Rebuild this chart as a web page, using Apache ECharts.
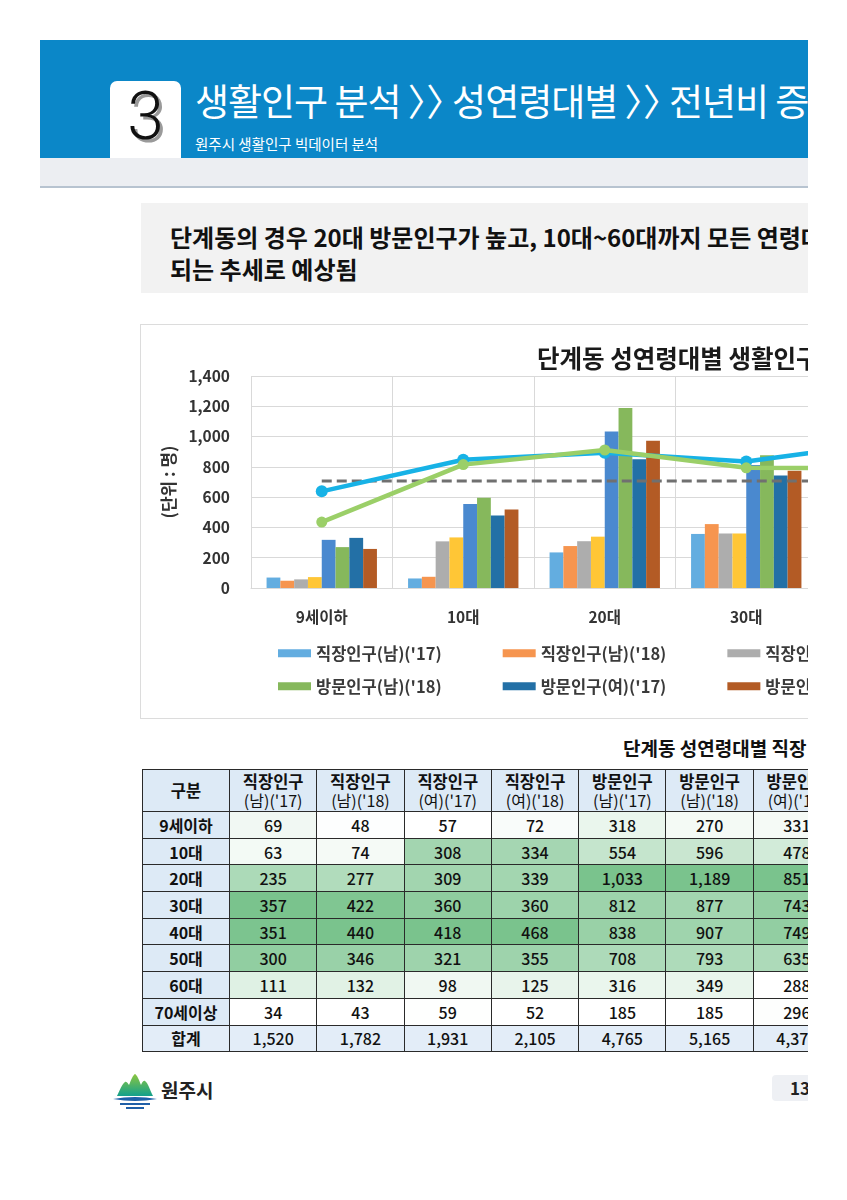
<!DOCTYPE html>
<html><head><meta charset="utf-8">
<script src="https://cdn.jsdelivr.net/npm/echarts@6/dist/echarts.min.js"></script>
<style>
body{margin:0;background:#fff;font-family:'Noto Sans CJK KR','Noto Sans',sans-serif;}
#page{position:relative;width:808px;height:1200px;overflow:hidden;background:#fff;}
.abs{position:absolute;}
#band{left:40px;top:40px;width:800px;height:118px;background:#0B87C8;}
#gray{left:40px;top:158px;width:800px;height:28px;background:#ECEEF2;border-bottom:2px solid #B7C3D0;}
#numbox{left:110px;top:81px;width:71px;height:77px;background:#fff;border-radius:7px 7px 0 0;}
#num{left:110px;top:84px;width:71px;text-align:center;font-family:Roboto,sans-serif;font-weight:300;font-size:66px;line-height:1;color:#111;text-shadow:3px 3px 0 #9a9a9a;}
#title{left:195px;top:82px;font-size:37px;line-height:37px;color:#fff;white-space:nowrap;letter-spacing:-1px;}
#title .ch{font-feature-settings:"halt";letter-spacing:0;}
#subtitle{left:195px;top:134px;font-size:14.5px;line-height:20px;color:#fff;white-space:nowrap;}
#head{left:141px;top:203px;width:700px;height:90px;background:#F2F2F2;box-sizing:border-box;padding:18px 0 0 29px;font-size:24px;font-weight:bold;line-height:32px;color:#111;white-space:nowrap;}
#chartbox{left:140px;top:324px;width:1352px;height:393px;border:1px solid #DCDCDC;background:#fff;}
#chart{width:1352px;height:393px;}
#ttitle{left:623px;top:735px;font-size:19px;font-weight:bold;line-height:26px;color:#111;white-space:nowrap;}
#tbl{left:142px;top:769px;border-collapse:collapse;table-layout:fixed;width:785.4px;}
#tbl td{border:1px solid #2a2a2a;text-align:center;padding:0;font-size:16px;font-weight:500;color:#111;white-space:nowrap;overflow:hidden;}
#tbl tr.h td{background:#DDEAF6;font-weight:bold;font-size:16.5px;line-height:19px;}
#tbl tr.h td span{font-weight:normal;font-size:16px;}
#tbl td.lab{background:#DDEAF6;font-weight:bold;}
#tbl tr.sum td{background:#E3EDF8;}
#logo{left:112px;top:1072px;}
#logotext{left:161px;top:1077px;font-size:19px;font-weight:bold;color:#222;line-height:26px;}
#pnum{left:772px;top:1075px;width:60px;height:26px;background:#EEF0F4;border-radius:4px;font-size:17px;font-weight:bold;line-height:26px;color:#222;box-sizing:border-box;padding-left:18px;}
</style></head>
<body>
<div id="page">
  <div id="band" class="abs"></div>
  <div id="gray" class="abs"></div>
  <div id="numbox" class="abs"></div>
  <div id="num" class="abs">3</div>
  <div id="title" class="abs">생활인구 분석 <span class="ch">〉〉</span> 성연령대별 <span class="ch">〉〉</span> 전년비 증감 현황</div>
  <div id="subtitle" class="abs">원주시 생활인구 빅데이터 분석</div>
  <div id="head" class="abs">단계동의 경우 20대 방문인구가 높고, 10대~60대까지 모든 연령대에서 생활인구가 증가<br>되는 추세로 예상됨</div>
  <div id="chartbox" class="abs"><div id="chart"></div></div>
  <div id="ttitle" class="abs">단계동 성연령대별 직장·방문인구 현황</div>
  <table id="tbl" class="abs"></table>
  <svg id="logo" class="abs" width="46" height="40" viewBox="0 0 46 40">
    <defs><linearGradient id="g" x1="0" y1="0" x2="0" y2="1"><stop offset="0" stop-color="#8CC63F"/><stop offset="1" stop-color="#13A08C"/></linearGradient></defs>
    <path d="M5 24 C8 18 10 12 13 10 C15 9 16 12 17 13 C19 8 21 3 23 2 C25 3 27 8 29 13 C30 11 31 8 33 9 C36 11 38 18 41 24 Z" fill="url(#g)"/>
    <path d="M1 27 Q23 23 45 27 Q23 31 1 27 Z" fill="#1F5FA8"/>
    <line x1="8" y1="32" x2="38" y2="32" stroke="#1F5FA8" stroke-width="2"/>
    <line x1="14" y1="36" x2="32" y2="36" stroke="#1F5FA8" stroke-width="2"/>
  </svg>
  <div id="logotext" class="abs">원주시</div>
  <div id="pnum" class="abs">13</div>
</div>
<script>
// ---- data ----
const categories = ['9세이하','10대','20대','30대','40대','50대','60대','70세이상'];
const seriesNames = ["직장인구(남)('17)","직장인구(남)('18)","직장인구(여)('17)","직장인구(여)('18)","방문인구(남)('17)","방문인구(남)('18)","방문인구(여)('17)","방문인구(여)('18)"];
const jobM17 = [69,63,235,357,351,300,111,34];
const jobM18 = [48,74,277,422,440,346,132,43];
const jobF17 = [57,308,309,360,418,321,98,59];
const jobF18 = [72,334,339,360,468,355,125,52];
const visM17 = [318,554,1033,812,838,708,316,185];
const visM18 = [270,596,1189,877,907,793,349,185];
const visF17 = [331,478,851,743,749,635,288,296];
const visF18 = [258,518,972,775,775,690,300,310];
const totals = [1520,1782,1931,2105,4765,5165,4371,4598];
const jobRate = [-4.9,10.0,13.3,9.2,18.1,12.9,23.0,2.2];
const visRate = [-19.4,7.7,14.6,6.2,6.0,10.4,7.5,2.9];
const baseRate = [0,0,0,0,0,0,0,0];
const yTicks = [0,200,400,600,800,1000,1200,1400];
const lineNames = ['직장인구 증감률','방문인구 증감률'];

const barData = [jobM17,jobM18,jobF17,jobF18,visM17,visM18,visF17,visF18];
const barColors = ['#63ADE0','#F6954F','#ADADAD','#FFC636','#4A89CF','#86B85C','#2370A6','#B35B25'];

const chart = echarts.init(document.getElementById('chart'));
const series = barData.map((d,i)=>({
  type:'bar', name:seriesNames[i], data:d, barGap:'0%', barCategoryGap:'22%',
  itemStyle:{color:barColors[i]}, z:2
}));
series.push({type:'line', name:'기준', yAxisIndex:1, data:baseRate, symbol:'none',
  lineStyle:{color:'#707070', width:3, type:[10,5]}, z:3, silent:true});
series.push({type:'line', name:lineNames[0], yAxisIndex:1, data:jobRate, symbol:'circle', symbolSize:12,
  lineStyle:{color:'#17B2E6', width:4.5}, itemStyle:{color:'#17B2E6'}, z:4});
series.push({type:'line', name:lineNames[1], yAxisIndex:1, data:visRate, symbol:'circle', symbolSize:11,
  lineStyle:{color:'#9BCF68', width:4.5}, itemStyle:{color:'#9BCF68'}, z:5});

const legendBase = {
  orient:'horizontal', icon:'rect', itemWidth:33, itemHeight:8, itemGap:61, left:137, padding:0,
  textStyle:{fontSize:16.5, fontWeight:'bold', color:'#3a3a3a', fontFamily:'Noto Sans CJK KR'}
};
chart.setOption({
  animation:false,
  title:{text:'단계동 성연령대별 생활인구 현황 및 전년비 증감률', left:396, top:21, padding:0,
    textStyle:{fontSize:24.5, fontWeight:'bold', color:'#1a1a1a', fontFamily:'Noto Sans CJK KR'}},
  legend:[
    Object.assign({}, legendBase, {top:320, data:seriesNames.slice(0,5)}),
    Object.assign({}, legendBase, {top:353, data:seriesNames.slice(5).concat(lineNames)})
  ],
  grid:{left:110, top:51, width:1132, height:212},
  xAxis:{type:'category', data:categories,
    axisLine:{lineStyle:{color:'#D9D9D9', width:1}}, axisTick:{show:false},
    splitLine:{show:true, lineStyle:{color:'#D9D9D9', width:1}},
    axisLabel:{margin:21, fontSize:15.5, fontWeight:'bold', color:'#333', fontFamily:'Noto Sans CJK KR'}},
  yAxis:[{type:'value', min:yTicks[0], max:yTicks[yTicks.length-1], interval:200,
    name:'(단위 : 명)', nameLocation:'middle', nameRotate:90, nameGap:74,
    nameTextStyle:{fontSize:17, fontWeight:'bold', color:'#333', fontFamily:'Noto Sans CJK KR'},
    axisLine:{show:false}, axisTick:{show:false},
    splitLine:{lineStyle:{color:'#D9D9D9', width:1}},
    axisLabel:{margin:21, fontSize:15.5, fontWeight:'bold', color:'#333', fontFamily:'Noto Sans CJK KR',
      formatter:v=>v.toLocaleString('en-US')}},
    {type:'value', min:-50.5, max:49.5, show:false, splitLine:{show:false}}],
  series:series
});

// ---- table ----
const heads = seriesNames.map(n=>{const m=n.match(/^(.*?)(\(.*)$/);return [m[1],m[2]];});
function cellColor(v,col){
  const mn=Math.min(...col), mx=Math.max(...col), t=(v-mn)/(mx-mn);
  const a=[255,255,255], b=[122,195,141];
  return 'rgb('+a.map((x,i)=>Math.round(x+(b[i]-x)*t)).join(',')+')';
}
let html='<colgroup><col style="width:87px">'+heads.map(()=>'<col style="width:87.3px">').join('')+'</colgroup>';
html+='<tr class="h" style="height:42px"><td>구분</td>'+heads.map(h=>'<td>'+h[0]+'<br><span>'+h[1]+'</span></td>').join('')+'</tr>';
categories.forEach((c,r)=>{
  html+='<tr style="height:26.7px"><td class="lab">'+c+'</td>'+barData.map(col=>'<td style="background:'+cellColor(col[r],col)+'">'+col[r].toLocaleString('en-US')+'</td>').join('')+'</tr>';
});
html+='<tr class="sum" style="height:26.7px"><td class="lab">합계</td>'+totals.map(v=>'<td>'+v.toLocaleString('en-US')+'</td>').join('')+'</tr>';
document.getElementById('tbl').innerHTML=html;
</script>
</body></html>
